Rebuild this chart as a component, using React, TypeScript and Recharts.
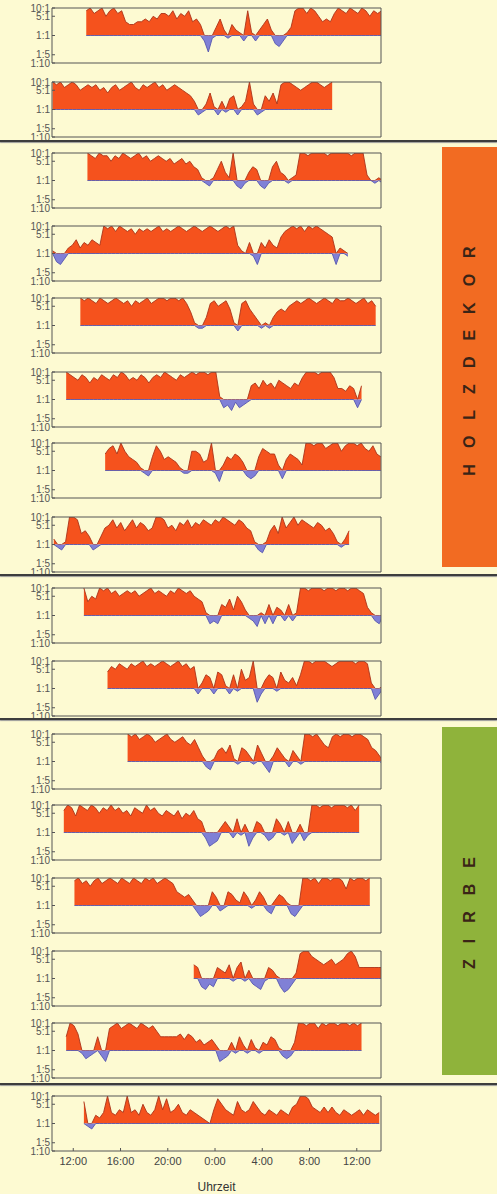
import { AreaChart, Area, XAxis, YAxis, ReferenceArea } from "recharts";

const xTicks = [0, 4, 8, 12, 16, 20, 24];
const xTickLabels = ["12:00", "16:00", "20:00", "0:00", "4:00", "8:00", "12:00"];
const yTicks = [-1, -0.7, 0, 0.7, 1];
const yTickLabels = ["1:10", "1:5", "1:1", "5:1", "10:1"];
const yMinorTicks = [-1, -0.85, -0.7, -0.48, -0.3, 0, 0.3, 0.48, 0.7, 0.85, 1];

// start of each recording in hours after 12:00 on day one, one reading every 20 min
const starts = [1.1, -1.75, 1.2, -1.75, 0.6, -0.6, 2.7, -1.65, 0.9, 2.9, 4.6, -0.8, 0.1, 10.2, -0.6, 0.9];

// log10 of the ratio in tenths: 10 = 10:1, 0 = 1:1, -10 = 1:10
const p01 = [9, 10, 8, 9, 10, 7, 9, 10, 8, 9, 5, 4, 4, 5, 5, 6, 5, 7, 6, 8, 8, 7, 9, 6, 8, 7, 9, 5, 6, 4, -2, -6, -1, 3, 6, 2, -1, 4, 2, 1, -2, 9, 1, -2, 2, 4, 6, 2, -3, -4, -2, 1, 3, 9, 10, 10, 8, 10, 9, 7, 5, 6, 5, 8, 10, 9, 8, 10, 9, 8, 10, 9, 7, 9, 8, 9];
const p02 = [10, 9, 10, 8, 9, 10, 9, 7, 8, 9, 8, 9, 7, 8, 6, 8, 9, 7, 8, 9, 10, 8, 7, 9, 8, 9, 10, 8, 9, 7, 8, 9, 8, 7, 6, 5, 3, -2, -1, 2, 6, 1, -2, 3, -1, 4, 5, -2, 1, 3, 10, 2, -2, -1, 5, 3, 6, 2, 9, 10, 10, 9, 8, 7, 8, 9, 10, 10, 9, 8, 9, 10];
const p03 = [10, 9, 8, 10, 9, 9, 7, 9, 8, 10, 9, 8, 9, 10, 8, 9, 7, 8, 9, 8, 7, 8, 6, 7, 8, 6, 7, 5, 4, 1, -1, -2, 1, 4, 7, 3, 1, 10, -2, -3, -1, 3, 5, 4, -2, -3, -1, 5, 7, 3, 2, -1, 1, 2, 10, 10, 9, 10, 10, 10, 10, 9, 10, 10, 10, 10, 10, 9, 10, 10, 10, 2, 0, -1, 1, -1];
const p04 = [1, -3, -4, -2, 2, 3, 5, 2, 4, 3, 5, 4, 3, 10, 9, 10, 8, 10, 9, 8, 9, 7, 9, 8, 9, 8, 9, 10, 8, 9, 8, 9, 10, 9, 8, 9, 10, 9, 8, 9, 10, 9, 8, 9, 10, 9, 10, 3, 1, 0, 4, -1, -4, 4, 2, 5, 3, 2, 6, 8, 9, 10, 9, 10, 8, 10, 9, 10, 9, 8, 7, 6, -4, 2, 1, -1];
const p05 = [10, 9, 10, 9, 8, 10, 9, 8, 9, 10, 9, 8, 9, 7, 9, 8, 9, 10, 8, 9, 10, 10, 9, 10, 10, 9, 10, 8, 5, 1, -1, -1, 3, 8, 9, 7, 8, 9, 6, 1, -2, 8, 9, 6, 4, 2, -1, 1, -1, 3, 5, 6, 5, 7, 8, 9, 8, 9, 10, 9, 8, 9, 10, 9, 8, 10, 9, 9, 10, 9, 8, 9, 10, 8, 9, 7];
const p06 = [10, 9, 8, 7, 9, 8, 6, 8, 7, 9, 8, 7, 9, 8, 10, 9, 7, 8, 7, 9, 8, 6, 8, 9, 8, 10, 9, 8, 7, 9, 8, 9, 10, 9, 10, 10, 9, 10, 10, 1, -3, -2, -4, -1, -3, -2, -1, 5, 6, 4, 7, 5, 6, 4, 7, 6, 5, 4, 6, 5, 8, 10, 10, 10, 9, 10, 10, 10, 8, 4, 4, 3, 5, 4, -3, 5];
const p07 = [6, 8, 9, 6, 10, 7, 5, 4, 3, 1, -1, -2, 5, 9, 7, 4, 5, 4, 3, 1, -1, -1, 7, 7, 6, 3, 4, 10, -1, -4, 2, 5, 4, 6, 5, 3, -2, -3, -2, 5, 8, 7, 6, 6, 2, -3, 4, 6, 5, 4, 2, 10, 10, 9, 10, 10, 8, 9, 10, 10, 7, 9, 10, 10, 9, 10, 8, 7, 9, 6, 5];
const p08 = [2, -1, -2, 1, 10, 10, 9, 4, 5, 3, -2, -1, 3, 6, 7, 9, 6, 8, 5, 7, 9, 6, 8, 7, 5, 6, 10, 10, 9, 6, 7, 5, 8, 7, 9, 6, 8, 7, 9, 8, 7, 9, 8, 10, 9, 8, 7, 9, 8, 6, 5, 1, -2, -3, 1, 5, 7, 4, 10, 6, 8, 10, 7, 9, 8, 7, 6, 8, 7, 5, 6, 4, 1, -1, 2, 5];
const p09 = [10, 5, 7, 6, 10, 9, 10, 8, 9, 7, 8, 9, 8, 9, 7, 8, 9, 10, 8, 9, 8, 7, 9, 8, 10, 9, 8, 9, 7, 6, 5, 1, -3, -2, -3, 4, 3, 6, 2, 7, 5, 2, -1, -2, -4, 1, -3, 4, -3, 3, 2, -2, 4, -2, 1, 10, 10, 9, 10, 10, 10, 9, 10, 10, 9, 10, 10, 9, 10, 10, 9, 8, 3, 1, -2, -3, 0];
const p10 = [6, 8, 7, 9, 8, 7, 9, 8, 9, 10, 8, 9, 8, 9, 10, 9, 8, 9, 10, 8, 9, 7, 8, -2, 2, 5, 4, -2, 6, 5, 1, -2, 5, -1, 7, 3, 4, 10, -5, -2, 3, 5, 4, -1, 6, 3, 2, 4, 1, 5, 10, 10, 9, 10, 10, 10, 9, 8, 9, 10, 10, 10, 10, 9, 10, 10, 9, 2, -4, -2, 1];
const p11 = [10, 9, 10, 8, 9, 10, 9, 7, 8, 9, 10, 8, 7, 8, 9, 7, 6, 8, 5, 2, -2, -3, 1, 4, 5, 3, 6, 1, -1, 5, 4, 2, -1, 6, 3, -2, -4, 2, 5, 3, 1, -2, 4, 2, -1, 10, 10, 9, 10, 8, 6, 5, 9, 10, 9, 10, 10, 9, 10, 10, 9, 8, 5, 4, 2, -1];
const p12 = [8, 10, 9, 6, 10, 9, 8, 10, 9, 7, 9, 8, 10, 8, 9, 7, 8, 6, 9, 8, 7, 10, 8, 9, 7, 6, 8, 7, 6, 8, 5, 7, 6, 8, 5, 4, -2, -5, -4, -3, 2, 4, 2, -2, 5, -1, 3, -5, -2, 4, 3, -1, -3, -2, 5, 3, -1, 4, -4, -2, 3, -3, -1, 10, 10, 9, 10, 10, 9, 10, 10, 10, 9, 10, 8, 10];
const p13 = [9, 10, 8, 9, 7, 9, 10, 8, 9, 10, 9, 8, 10, 9, 8, 10, 9, 8, 10, 9, 10, 8, 9, 10, 9, 8, 5, 4, 3, 4, 2, -2, -4, -3, -2, 5, 3, -2, -1, 5, 4, 2, 1, 5, 3, -1, 2, 5, 3, -2, -3, 2, 4, 3, 1, -3, -4, -2, 10, 10, 9, 10, 8, 10, 10, 9, 10, 10, 9, 6, 10, 9, 10, 10, 9, 10];
const p14 = [5, 4, -3, -4, -2, -3, 4, 3, 2, 5, -1, 4, 6, -1, 3, -2, -3, -4, -1, 4, 3, 1, -3, -5, -4, -2, 2, 9, 10, 10, 8, 7, 6, 5, 6, 7, 5, 6, 7, 9, 10, 8, 4, 4, 4, 4, 4, 4, 4];
const p15 = [5, 10, 9, 6, -1, -3, -2, -1, 5, -2, -4, 8, 9, 10, 8, 9, 10, 9, 8, 10, 9, 8, 9, 7, 5, 5, 5, 5, 5, 6, 4, 6, 5, 3, 4, 2, 3, 4, 2, -4, -3, -2, 3, -1, 5, 2, -1, 4, 1, -1, 3, 2, 5, 4, 1, -2, -3, -2, 3, 10, 10, 9, 10, 10, 8, 10, 9, 10, 10, 9, 10, 10, 9, 10, 9, 10];
const p16 = [8, -1, -2, 3, 2, 4, 10, 4, 3, 5, 4, 10, 4, 5, 3, 7, 4, 3, 5, 10, 5, 9, 4, 5, 7, 4, 3, 5, 4, 3, 2, 1, 0, 5, 9, 7, 5, 4, 3, 8, 5, 4, 5, 8, 6, 4, 3, 5, 4, 3, 5, 4, 3, 6, 7, 10, 10, 9, 6, 5, 4, 6, 4, 6, 4, 3, 5, 4, 3, 4, 5, 3, 5, 4, 3, 4];

const series = [p01, p02, p03, p04, p05, p06, p07, p08, p09, p10, p11, p12, p13, p14, p15, p16];
const groups = [
  { name: "HOLZDEKOR", color: "#f26b22", top: 147, height: 420, shift: 4 },
  { name: "ZIRBE", color: "#8fb33b", top: 727, height: 348, shift: 12 },
];

const panelTops = [8, 82, 153, 226, 298, 372, 443, 517, 588, 661, 734, 805, 878, 951, 1023, 1096];
const dividers = [140, 574, 718, 1083];
const xDomain: [number, number] = [-1.8, 26.05];
const pad = 8;

function Panel({ values, start, top, last }: { values: number[]; start: number; top: number; last: boolean }) {
  const data = values.map((v, i) => {
    const r = v / 10;
    return { t: start + i / 3, pos: r > 0 ? r : 0, neg: r < 0 ? r : 0 };
  });
  return (
    <div style={{ position: "absolute", left: 0, top: top - pad }}>
      <AreaChart
        width={400}
        height={55 + 2 * pad + (last ? 40 : 0)}
        data={data}
        margin={{ top: pad, right: 19, bottom: pad, left: 0 }}
      >
        <XAxis
          dataKey="t"
          type="number"
          domain={xDomain}
          allowDataOverflow
          ticks={xTicks}
          interval={0}
          tickSize={-3}
          tickMargin={9}
          axisLine={false}
          stroke="#555"
          height={last ? 40 : 0}
          tickFormatter={(v: number) => xTickLabels[xTicks.indexOf(v)]}
          tick={last ? { fontSize: 11, fill: "#444" } : false}
          label={last ? { value: "Uhrzeit", position: "insideBottom", offset: 0, fontSize: 12, fill: "#333" } : undefined}
        />
        <YAxis
          yAxisId="l"
          type="number"
          domain={[-1, 1]}
          allowDataOverflow
          ticks={yTicks}
          interval={0}
          width={52}
          tickSize={-3}
          tickMargin={5}
          axisLine={false}
          stroke="#555"
          tickFormatter={(v: number) => yTickLabels[yTicks.indexOf(v)]}
          tick={{ fontSize: 10, fill: "#555" }}
        />
        <YAxis
          yAxisId="r"
          orientation="right"
          type="number"
          domain={[-1, 1]}
          ticks={yMinorTicks}
          interval={0}
          width={0}
          tickSize={-3}
          axisLine={false}
          stroke="#555"
          tick={false}
        />
        <Area
          yAxisId="l"
          type="linear"
          dataKey="pos"
          baseValue={0}
          fill="#f5521d"
          fillOpacity={1}
          stroke="#aa331a"
          strokeWidth={0.9}
          dot={false}
          activeDot={false}
          isAnimationActive={false}
        />
        <Area
          yAxisId="l"
          type="linear"
          dataKey="neg"
          baseValue={0}
          fill="#8080d6"
          fillOpacity={1}
          stroke="#5656b0"
          strokeWidth={0.9}
          dot={false}
          activeDot={false}
          isAnimationActive={false}
        />
        <ReferenceArea
          yAxisId="l"
          x1={xDomain[0]}
          x2={xDomain[1]}
          y1={-1}
          y2={1}
          fill="none"
          stroke="#555"
          strokeWidth={1}
          ifOverflow="visible"
        />
      </AreaChart>
    </div>
  );
}

export default function App() {
  return (
    <div
      style={{
        position: "absolute",
        left: 0,
        top: 0,
        width: 497,
        height: 1194,
        overflow: "hidden",
        background: "#fdfad2",
        fontFamily: "'Liberation Sans', Arial, sans-serif",
      }}
    >
      {series.map((values, i) => (
        <Panel key={i} values={values} start={starts[i]} top={panelTops[i]} last={i === series.length - 1} />
      ))}
      {dividers.map((y) => (
        <div
          key={y}
          style={{ position: "absolute", left: 0, top: y, width: 497, height: 2, background: "#3d3d3d", boxShadow: "0 1px 1px #9a9a9a" }}
        />
      ))}
      {groups.map((g) => (
        <div
          key={g.name}
          style={{
            position: "absolute",
            left: 442,
            top: g.top,
            width: 55,
            height: g.height,
            background: g.color,
            display: "flex",
            alignItems: "center",
            justifyContent: "center",
          }}
        >
          <span
            style={{
              transform: `translateY(${g.shift}px) rotate(-90deg)`,
              whiteSpace: "nowrap",
              fontSize: 16,
              fontWeight: 700,
              letterSpacing: 16,
              paddingLeft: 16,
              color: "#3a2416",
            }}
          >
            {g.name}
          </span>
        </div>
      ))}
    </div>
  );
}
